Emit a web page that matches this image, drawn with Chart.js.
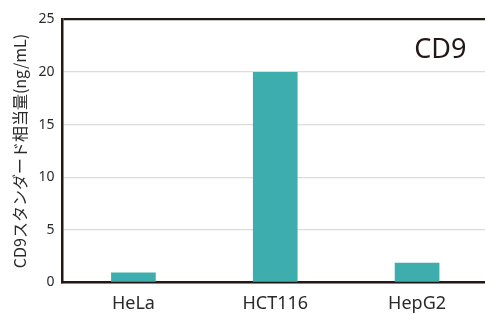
<!DOCTYPE html>
<html>
<head>
<meta charset="utf-8">
<script src="https://cdn.jsdelivr.net/npm/chart.js@4/dist/chart.umd.min.js"></script>
<style>
html,body{margin:0;padding:0;background:#fff;overflow:hidden;width:485px;height:315px;}
canvas{display:block;}
</style>
</head>
<body>
<canvas id="c" width="488" height="315"></canvas>
<script>
const categories = ["HeLa", "HCT116", "HepG2"];
const cd9Values = [0.95, 20.0, 1.88];
const yTicks = [0, 5, 10, 15, 20, 25];
const yTitle = "CD9スタンダード相当量(ng/mL)";
const panelLabel = "CD9";

const dark = "#231815";
const textColor = "#2a2a2a";

const labelPlugin = {
  id: "panelLabel",
  afterDraw(chart) {
    const ctx = chart.ctx;
    const a = chart.chartArea;
    ctx.save();
    ctx.font = "27px 'Noto Sans'";
    ctx.fillStyle = dark;
    ctx.textAlign = "right";
    ctx.textBaseline = "alphabetic";
    ctx.fillText(panelLabel, a.right - 21.5, a.top + 38.2);
    ctx.restore();
  }
};

new Chart(document.getElementById("c"), {
  type: "bar",
  data: {
    labels: categories,
    datasets: [{
      data: cd9Values,
      backgroundColor: "#3eadad",
      borderWidth: 0,
      categoryPercentage: 1,
      barPercentage: 0.315
    }]
  },
  options: {
    responsive: false,
    animation: false,
    devicePixelRatio: 1,
    layout: { padding: { top: 19.5, right: 0, left: 0, bottom: 0 } },
    plugins: { legend: { display: false }, tooltip: { enabled: false } },
    scales: {
      x: {
        grid: { display: false },
        border: { display: true, color: dark, width: 2.5 },
        ticks: { color: textColor, font: { family: "'Noto Sans'", size: 18 }, padding: 3 },
        afterFit(s) { s.height = 32.5; }
      },
      y: {
        min: 0, max: 25,
        afterBuildTicks(s) { s.ticks = yTicks.map(v => ({ value: v })); },
        grid: {
          drawTicks: false,
          color: c => (c.tick && c.tick.value === 25) ? dark : "#dcdcdc",
          lineWidth: c => (c.tick && c.tick.value === 25) ? 2.2 : 1.3
        },
        border: { display: true, color: dark, width: 2.5 },
        ticks: { color: textColor, font: { family: "'Noto Sans'", size: 14 }, padding: 8 },
        title: {
          display: true, text: yTitle, color: textColor,
          font: { family: "'Noto Sans CJK JP'", size: 16 },
          padding: { top: 10, bottom: 0 }
        },
        afterFit(s) { s.width = 62.5; }
      }
    }
  },
  plugins: [labelPlugin]
});
</script>
</body>
</html>
